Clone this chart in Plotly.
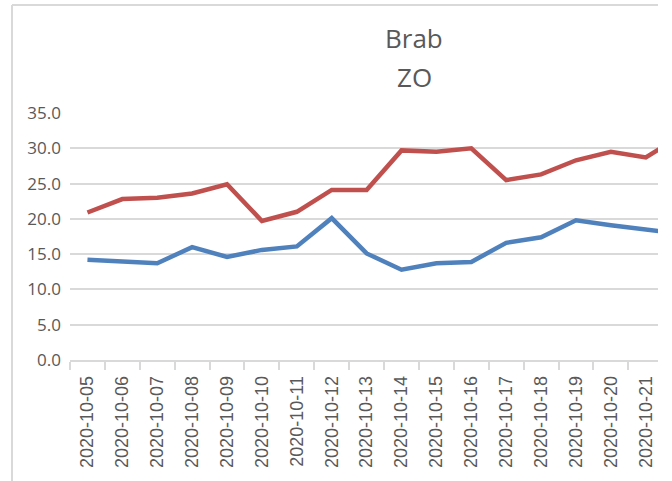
import plotly.graph_objects as go

dates = ["2020-10-05", "2020-10-06", "2020-10-07", "2020-10-08", "2020-10-09",
         "2020-10-10", "2020-10-11", "2020-10-12", "2020-10-13", "2020-10-14",
         "2020-10-15", "2020-10-16", "2020-10-17", "2020-10-18", "2020-10-19",
         "2020-10-20", "2020-10-21", "2020-10-22"]
red_values = [20.9, 22.8, 23.0, 23.6, 24.9, 19.7, 21.0, 24.1, 24.1, 29.7,
              29.5, 30.0, 25.5, 26.3, 28.3, 29.5, 28.7, 31.8]
blue_values = [14.2, 13.9, 13.7, 16.0, 14.6, 15.6, 16.1, 20.1, 15.1, 12.8,
               13.7, 13.9, 16.6, 17.4, 19.8, 19.1, 18.5, 17.9]
y_ticks = [0, 5, 10, 15, 20, 25, 30, 35]
title_lines = ["Brab", "ZO"]

W, H = 672, 481
L, R, T, B = 70, 14, 113, 121
pw, ph = W - L - R, H - T - B

def px_x(x):
    return (x - L) / pw

def px_y(y):
    return (H - B - y) / ph

fig = go.Figure()
fig.add_trace(go.Scatter(x=dates, y=blue_values, mode="lines",
                         line=dict(color="#4f81bd", width=4.5), showlegend=False))
fig.add_trace(go.Scatter(x=dates, y=red_values, mode="lines",
                         line=dict(color="#c0504d", width=4.5), showlegend=False))

grey = "#d9d9d9"
txt = "#595959"

fig.update_layout(
    width=W, height=H,
    margin=dict(l=L, r=R, t=T, b=B, pad=0),
    paper_bgcolor="white", plot_bgcolor="white",
    xaxis=dict(type="category", range=[-0.5, 16.35], tickson="boundaries",
               ticks="outside", ticklen=8, tickcolor=grey, tickwidth=1.5,
               showline=True, linecolor=grey, linewidth=1.5, showgrid=False,
               tickangle=-90, ticklabelstandoff=7,
               tickfont=dict(family="Liberation Sans", size=18, color=txt)),
    yaxis=dict(range=[0, 35], tickvals=y_ticks, tickformat=".1f",
               showgrid=True, gridcolor=grey, gridwidth=1.5, zeroline=False,
               showline=False, ticks="", ticklabelstandoff=8,
               tickfont=dict(family="Open Sans", size=17, color=txt)),
    shapes=[
        dict(type="line", xref="paper", yref="paper",
             x0=px_x(12), x1=px_x(12), y0=px_y(5), y1=px_y(490),
             line=dict(color=grey, width=2)),
        dict(type="line", xref="paper", yref="paper",
             x0=px_x(12), x1=1.0, y0=px_y(5), y1=px_y(5),
             line=dict(color=grey, width=2)),
    ],
    annotations=[
        dict(text=title_lines[0], xref="paper", yref="paper", x=px_x(414), y=px_y(58),
             xanchor="center", yanchor="bottom", showarrow=False,
             font=dict(family="Open Sans", size=26, color=txt)),
        dict(text=title_lines[1], xref="paper", yref="paper", x=px_x(414), y=px_y(97),
             xanchor="center", yanchor="bottom", showarrow=False,
             font=dict(family="Open Sans", size=26, color=txt)),
    ],
)

fig.write_html("out.html", config={"displayModeBar": False},
               post_script="document.body.style.margin='0';")
